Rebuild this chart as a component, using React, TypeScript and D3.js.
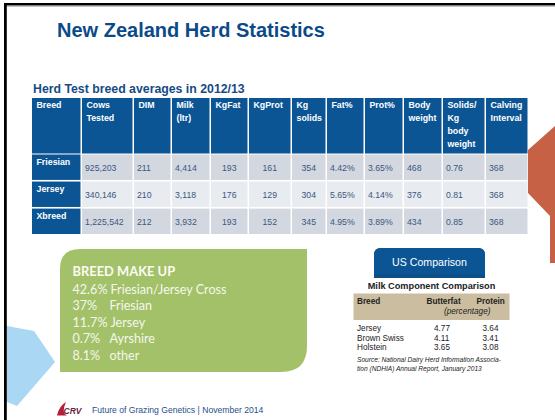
import React from "react";
import * as d3 from "d3";

// herd test table data (2012/13)
const breeds = ["Friesian", "Jersey", "Xbreed"];
const cowsTested = [925203, 340146, 1225542];
const dim = [211, 210, 212];
const milk = [4414, 3118, 3932];
const kgFat = [193, 176, 193];
const kgProt = [161, 129, 152];
const kgSolids = [354, 304, 345];
const fatPct = [4.42, 5.65, 4.95];
const protPct = [3.65, 4.14, 3.89];
const bodyWeight = [468, 376, 434];
const solidsPerKg = [0.76, 0.81, 0.85];
const calvingInterval = [368, 368, 368];

const headers = [
  ["Breed"],
  ["Cows", "Tested"],
  ["DIM"],
  ["Milk", "(ltr)"],
  ["KgFat"],
  ["KgProt"],
  ["Kg", "solids"],
  ["Fat%"],
  ["Prot%"],
  ["Body", "weight"],
  ["Solids/", "Kg", "body", "weight"],
  ["Calving", "Interval"],
];

// breed make up box
const makeUpPct = ["42.6%", "37%", "11.7%", "0.7%", "8.1%"];
const makeUpBreed = ["Friesian/Jersey Cross", "Friesian", "Jersey", "Ayrshire", "other"];

// US comparison
const usBreeds = ["Jersey", "Brown Swiss", "Holstein"];
const usButterfat = [4.77, 4.11, 3.65];
const usProtein = [3.64, 3.41, 3.08];

const colWidths = [50, 52, 38, 39, 38, 43, 35, 38, 39, 39, 43, 43];
const colAlign = ["start", "start", "start", "start", "middle", "middle", "middle", "start", "start", "start", "start", "start"];

const BLUE = "#0c5595";
const ARIAL = "'Liberation Sans', Arial, sans-serif";
const NARROW = "'Liberation Sans Narrow', 'Liberation Sans', Arial, sans-serif";
const CALIBRI = "Lato, 'Open Sans', sans-serif";

export default function App() {
  const W = 555;
  const H = 420;

  const fmtInt = d3.format(",");
  const fmtPct = (v: number) => d3.format(".2f")(v) + "%";
  const fmt2 = d3.format(".2f");

  const rows = breeds.map((b, i) => [
    b,
    fmtInt(cowsTested[i]),
    String(dim[i]),
    fmtInt(milk[i]),
    String(kgFat[i]),
    String(kgProt[i]),
    String(kgSolids[i]),
    fmtPct(fatPct[i]),
    fmtPct(protPct[i]),
    String(bodyWeight[i]),
    fmt2(solidsPerKg[i]),
    String(calvingInterval[i]),
  ]);

  // column edges
  const tableX = 32;
  const edges = [tableX, ...Array.from(d3.cumsum(colWidths), (c) => tableX + c)];
  const headTop = 98;
  const headBottom = 153.5;
  const y = d3.scaleBand<string>().domain(breeds).range([154.5, 234]).paddingInner(0.06);

  const makeUpY = d3.scaleBand<string>().domain(makeUpBreed).range([281, 364]);
  const usY = d3.scaleBand<string>().domain(usBreeds).range([323.5, 352]);

  const gap = 1.5;
  // second column (tab stop) of the make-up list
  const tabX = 109.5;

  return (
    <svg
      width={W}
      height={H}
      viewBox={`0 0 ${W} ${H}`}
      style={{ position: "absolute", left: 0, top: 0, background: "#fff" }}
    >
      <rect x={0} y={0} width={W} height={H} fill="#fff" />

      {/* decorative shapes */}
      <path d="M555,126 L528,150 L528,193 L550,216 L550,263 L555,263 Z" fill="#c4583b" opacity={0.95} />
      <path d="M7,326 L34,331 L55,362 L17,406 L7,402 Z" fill="#aad7f3" />

      {/* slide frame */}
      <rect x={4} y={3} width={W - 4} height={2.5} fill="#000" />
      <rect x={6} y={5.5} width={W - 6} height={1} fill="#888" />
      <rect x={4} y={3} width={2.8} height={H - 3} fill="#000" />

      {/* title */}
      <text x={57} y={37} fontFamily={ARIAL} fontWeight="bold" fontSize={20} fill="#0b4a8a">
        New Zealand Herd Statistics
      </text>
      <text x={33} y={93} fontFamily={ARIAL} fontWeight="bold" fontSize={12.3} fill="#164b85">
        Herd Test breed averages in 2012/13
      </text>

      {/* table header */}
      {headers.map((h, j) => {
        const x0 = edges[j];
        const x1 = edges[j + 1];
        return (
          <g key={"h" + j}>
            <rect x={x0} y={headTop} width={x1 - x0 - gap} height={headBottom - headTop} fill={BLUE} />
            {h.map((line, k) => (
              <text
                key={k}
                x={x0 + 4.5}
                y={headTop + 10 + k * 13}
                fontFamily={ARIAL}
                fontWeight="bold"
                fontSize={8.8}
                fill="#fff"
              >
                {line}
              </text>
            ))}
          </g>
        );
      })}

      {/* table body */}
      {rows.map((r, i) => {
        const y0 = y(breeds[i])!;
        const bh = y.bandwidth();
        const fill = i === 1 ? "#e8ebf0" : "#d3d8e0";
        return (
          <g key={"r" + i}>
            {r.map((cell, j) => {
              const x0 = edges[j];
              const x1 = edges[j + 1];
              if (j === 0) {
                return (
                  <g key={j}>
                    <rect x={x0} y={y0} width={x1 - x0 - gap} height={bh} fill={BLUE} />
                    <text x={x0 + 4.5} y={y0 + 10.5} fontFamily={ARIAL} fontWeight="bold" fontSize={8.8} fill="#fff">
                      {cell}
                    </text>
                  </g>
                );
              }
              const anchor = colAlign[j];
              const tx = anchor === "middle" ? (x0 + x1 - gap) / 2 : x0 + 3;
              return (
                <g key={j}>
                  <rect x={x0} y={y0} width={x1 - x0 - gap} height={bh} fill={fill} />
                  <text
                    x={tx}
                    y={y0 + 16.8}
                    textAnchor={anchor}
                    fontFamily={ARIAL}
                    fontSize={8.7}
                    fill="#3b577f"
                  >
                    {cell}
                  </text>
                </g>
              );
            })}
          </g>
        );
      })}

      {/* breed make up box */}
      <path
        d="M60,269 Q60,249 80,249 L307,249 L307,346 Q307,372 281,372 L60,372 Z"
        fill="#a3c169"
      />
      <text x={72.5} y={276} fontFamily={CALIBRI} fontWeight="bold" fontSize={12.9} fill="#fafcf4">
        BREED MAKE UP
      </text>
      {makeUpBreed.map((b, i) => {
        const ty = makeUpY(b)! + makeUpY.bandwidth() / 2 + 4.3;
        const bx = i === 0 || i === 2 ? undefined : tabX;
        return (
          <text key={b} x={72.5} y={ty} fontFamily={CALIBRI} fontSize={12.6} fill="#f4f7ec">
            {makeUpPct[i]}
            {bx === undefined ? <tspan dx={3}>{b}</tspan> : <tspan x={bx}>{b}</tspan>}
          </text>
        );
      })}

      {/* US comparison button */}
      <path d="M374,278 L374,255 Q374,248 381,248 L478,248 Q485,248 485,255 L485,278 Z" fill="#0d4f84" />
      <path d="M374,274.5 L374,255 Q374,248 381,248 L478,248 Q485,248 485,255 L485,274.5 Z" fill={BLUE} />
      <text x={429.5} y={265.5} textAnchor="middle" fontFamily={ARIAL} fontSize={10.6} fill="#fff">
        US Comparison
      </text>

      <text x={431.5} y={288.5} textAnchor="middle" fontFamily={ARIAL} fontWeight="bold" fontSize={9.2} fill="#222">
        Milk Component Comparison
      </text>
      <rect x={353.5} y={293.5} width={156} height={26.5} fill="#cbbd9f" />
      <g fontFamily={NARROW} fontSize={8.2} fill="#222">
        <text x={357} y={303.5} fontWeight="bold">Breed</text>
        <text x={426.5} y={303.5} fontWeight="bold">Butterfat</text>
        <text x={476.5} y={303.5} fontWeight="bold">Protein</text>
        <text x={444} y={314} fontStyle="italic">(percentage)</text>
        {usBreeds.map((b, i) => {
          const ty = usY(b)! + usY.bandwidth() / 2 + 3;
          return (
            <g key={b}>
              <text x={357} y={ty}>{b}</text>
              <text x={434} y={ty}>{fmt2(usButterfat[i])}</text>
              <text x={482.5} y={ty}>{fmt2(usProtein[i])}</text>
            </g>
          );
        })}
        <text x={357} y={362} fontStyle="italic" fontSize={6.6}>
          Source: National Dairy Herd Information Associa-
        </text>
        <text x={357} y={370.5} fontStyle="italic" fontSize={6.6}>
          tion (NDHIA) Annual Report, January 2013
        </text>
      </g>

      {/* footer */}
      <path d="M66,402 Q59,406 57,415.5 L67,415.5 Q61,413 66,402 Z" fill="#b3203a" />
      <text x={63.5} y={414} fontFamily={ARIAL} fontWeight="bold" fontStyle="italic" fontSize={8.5} fill="#6e1d3b">
        CRV
      </text>
      <text x={92} y={413} fontFamily={ARIAL} fontSize={8.6} fill="#1f4f8a">
        Future of Grazing Genetics | November 2014
      </text>
    </svg>
  );
}
